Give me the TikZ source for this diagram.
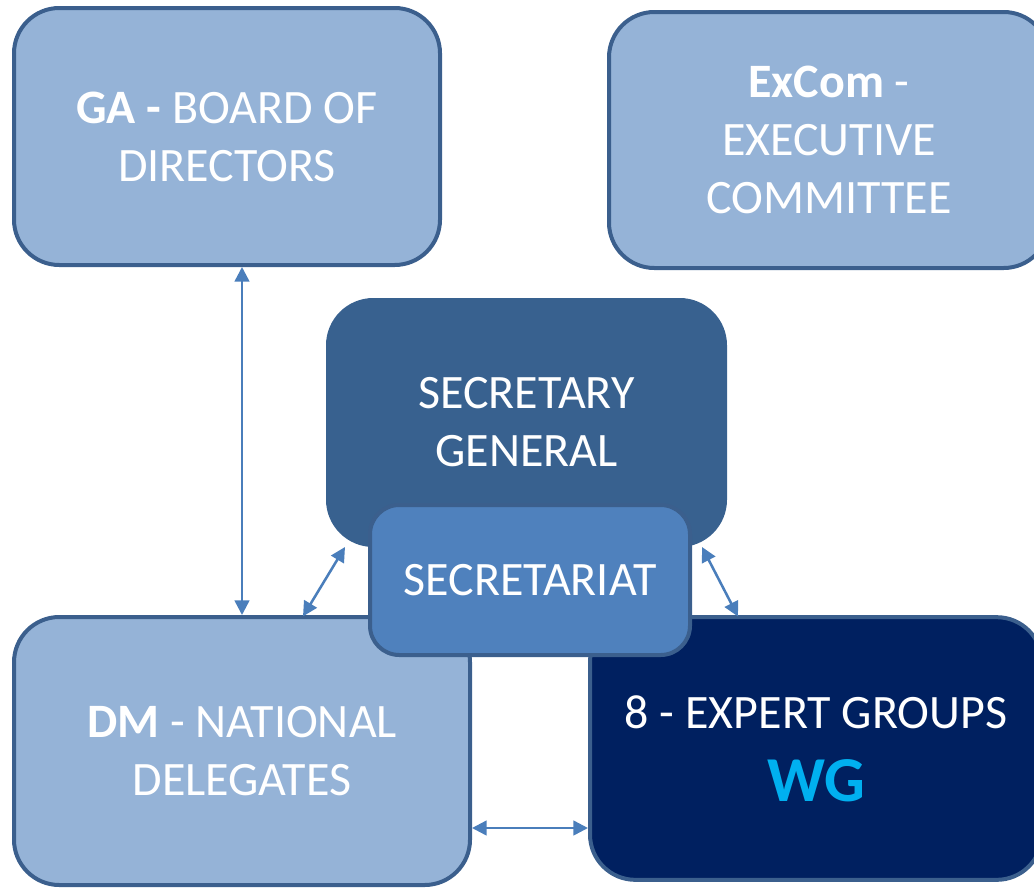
\documentclass[tikz,border=0pt]{standalone}
\usepackage{fontspec}
\setmainfont{Carlito}
\usetikzlibrary{arrows.meta}
\definecolor{boxlight}{HTML}{95B3D7}
\definecolor{boxline}{HTML}{3B5F8D}
\definecolor{boxmid}{HTML}{38618F}
\definecolor{boxsec}{HTML}{4F81BD}
\definecolor{boxnavy}{HTML}{002060}
\definecolor{arrowblue}{HTML}{4A7EBB}
\definecolor{wgcyan}{HTML}{00B0F0}
\tikzset{
  orgbox/.style={draw=boxline, line width=3pt, rounded corners=34pt, text=white,
    align=center, font=\fontsize{36}{43.5}\selectfont, inner sep=0pt},
  link/.style={arrowblue, line width=1.9pt, {Triangle[width=11pt,length=11pt]}-{Triangle[width=11pt,length=11pt]}}
}
\begin{document}
\begin{tikzpicture}[x=0.75pt, y=-0.75pt]
  \useasboundingbox (0,0) rectangle (1034,889);
  \clip (0,0) rectangle (1034,889);

  % Top row
  \node[orgbox, fill=boxlight, minimum width=319.5pt, minimum height=192.75pt] (ga) at (227,136.5)
    {\textbf{GA -} BOARD OF\\DIRECTORS};
  \node[orgbox, fill=boxlight, minimum width=330pt, minimum height=192pt] (excom) at (829,140)
    {\textbf{ExCom} -\\EXECUTIVE\\COMMITTEE};

  % Bottom row
  \node[orgbox, fill=boxlight, minimum width=342pt, minimum height=201pt] (dm) at (242,751)
    {\textbf{DM} - NATIONAL\\DELEGATES};
  \node[orgbox, fill=boxnavy, minimum width=339pt, minimum height=197pt] (eg) at (816,748.5)
    {8 - EXPERT GROUPS\\[11pt]{\fontsize{48}{50}\selectfont\bfseries\color{wgcyan}WG}};

  % Centre
  \node[orgbox, draw=boxmid, fill=boxmid, minimum width=297.75pt, minimum height=183.75pt] (sg) at (526.5,422.5)
    {SECRETARY\\GENERAL};
  \node[orgbox, fill=boxsec, rounded corners=22pt, minimum width=240pt, minimum height=112.5pt] (sec) at (530,580)
    {SECRETARIAT};

  % Links
  \draw[link] (ga.south -| dm.north) -- (dm.north);
  \draw[link] ([xshift=291*0.75pt, yshift=-1pt]dm.north west) -- ([xshift=19*0.75pt]sg.south west);
  \draw[link] ([xshift=-25*0.75pt]sg.south east) -- ([xshift=150*0.75pt, yshift=-1pt]eg.north west);
  \draw[link] ([yshift=-77*0.75pt]dm.east) -- ([yshift=-77*0.75pt]dm.east -| eg.west);
\end{tikzpicture}
\end{document}
